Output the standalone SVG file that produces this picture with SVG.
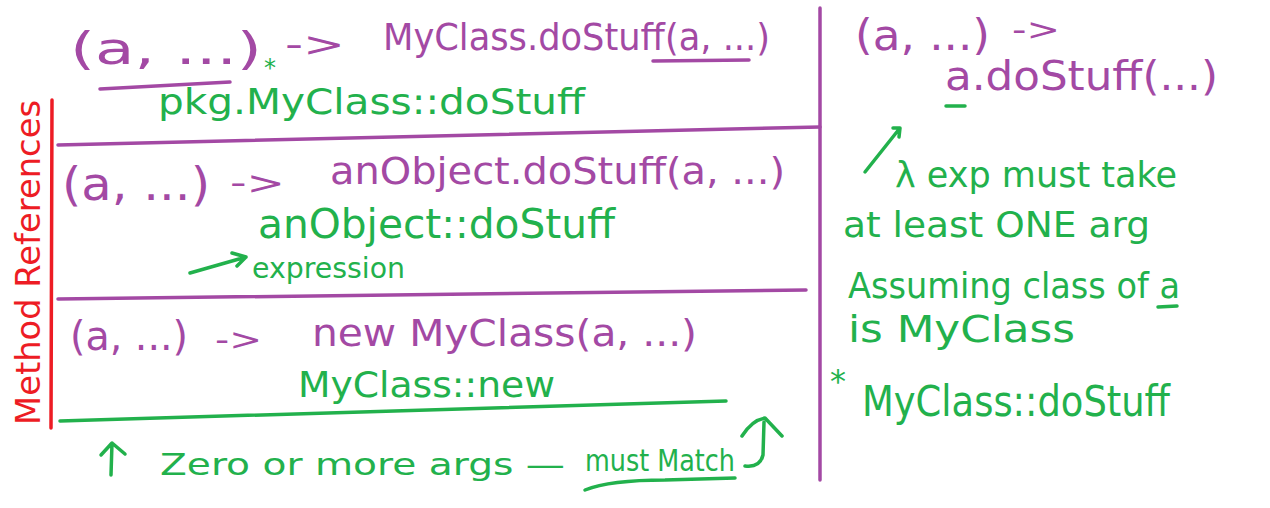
<svg xmlns="http://www.w3.org/2000/svg" width="1270" height="508" viewBox="0 0 1270 508">
<style>
text{font-family:"DejaVu Sans","Liberation Sans",sans-serif;}
.p{fill:#a349a4;}
.g{fill:#22b14c;}
.r{fill:#ed1c24;}
.lp{stroke:#a349a4;stroke-width:3.5;fill:none;stroke-linecap:round;stroke-linejoin:round;}
.lg{stroke:#22b14c;stroke-width:3.5;fill:none;stroke-linecap:round;stroke-linejoin:round;}
.lr{stroke:#ed1c24;stroke-width:3.5;fill:none;stroke-linecap:round;}
</style>
<rect width="1270" height="508" fill="#ffffff"/>
<g id="frame">
<path class="lp" d="M820 8 L820 480"/>
<path class="lp" d="M58 145 L820 127"/>
<path class="lp" d="M58 299 L806 290"/>
<path class="lg" d="M60 421 L726 401"/>
<path class="lr" d="M52 100 L51 428"/>
<path class="lp" d="M100 89 L230 82"/>
<path class="lp" d="M653 61 L749 60"/>
</g>
<g id="title">
<text class="r" transform="translate(40,425) rotate(-90)" font-size="34" textLength="325" lengthAdjust="spacingAndGlyphs">Method References</text>
</g>
<g id="row1">
<text class="p" x="70" y="64" font-size="44" textLength="192" lengthAdjust="spacingAndGlyphs">(a, ...)</text>
<text class="p" x="285" y="56" font-size="34" textLength="60" lengthAdjust="spacingAndGlyphs">-&gt;</text>
<text class="p" x="383" y="50" font-size="38" textLength="387" lengthAdjust="spacingAndGlyphs">MyClass.doStuff(a, ...)</text>
<text class="g" x="264" y="76" font-size="24">*</text>
<text class="g" x="158" y="114" font-size="36" textLength="427" lengthAdjust="spacingAndGlyphs">pkg.MyClass::doStuff</text>
</g>
<g id="row2">
<text class="p" x="62" y="200" font-size="46" textLength="148" lengthAdjust="spacingAndGlyphs">(a, ...)</text>
<text class="p" x="230" y="194" font-size="32" textLength="55" lengthAdjust="spacingAndGlyphs">-&gt;</text>
<text class="p" x="330" y="184" font-size="38" textLength="455" lengthAdjust="spacingAndGlyphs">anObject.doStuff(a, ...)</text>
<text class="g" x="258" y="238" font-size="40" textLength="357" lengthAdjust="spacingAndGlyphs">anObject::doStuff</text>
<path class="lg" d="M190 273 L246 257 M232 253 L246 257 L237 266"/>
<text class="g" x="252" y="278" font-size="28" textLength="153" lengthAdjust="spacingAndGlyphs">expression</text>
</g>
<g id="row3">
<text class="p" x="70" y="350" font-size="40" textLength="118" lengthAdjust="spacingAndGlyphs">(a, ...)</text>
<text class="p" x="215" y="350" font-size="30" textLength="47" lengthAdjust="spacingAndGlyphs">-&gt;</text>
<text class="p" x="312" y="346" font-size="38" textLength="385" lengthAdjust="spacingAndGlyphs">new MyClass(a, ...)</text>
<text class="g" x="298" y="397" font-size="36" textLength="257" lengthAdjust="spacingAndGlyphs">MyClass::new</text>
</g>
<g id="bottom">
<path class="lg" d="M111 475 L112 443 M101 455 L112 443 L125 454"/>
<text class="g" x="160" y="475" font-size="30" textLength="405" lengthAdjust="spacingAndGlyphs">Zero or more args —</text>
<text class="g" x="585" y="471" font-size="30" textLength="150" lengthAdjust="spacingAndGlyphs">must Match</text>
<path class="lg" d="M585 490 Q610 480 665 480 L735 478"/>
<path class="lg" d="M745 466 Q760 468 763 455 L764 422 M742 436 Q752 420 765 418 L782 436"/>
</g>
<g id="right">
<text class="p" x="855" y="50" font-size="42" textLength="135" lengthAdjust="spacingAndGlyphs">(a, ...)</text>
<text class="p" x="1012" y="40" font-size="30" textLength="48" lengthAdjust="spacingAndGlyphs">-&gt;</text>
<text class="p" x="945" y="90" font-size="40" textLength="273" lengthAdjust="spacingAndGlyphs">a.doStuff(...)</text>
<path class="lg" d="M946 106 L965 106"/>
<path class="lg" d="M865 172 L900 128 M893 128 L900 128 L899 137"/>
<text class="g" x="895" y="187" font-size="36" textLength="282" lengthAdjust="spacingAndGlyphs">λ exp must take</text>
<text class="g" x="843" y="237" font-size="36" textLength="307" lengthAdjust="spacingAndGlyphs">at least ONE arg</text>
<text class="g" x="848" y="298" font-size="36" textLength="332" lengthAdjust="spacingAndGlyphs">Assuming class of a</text>
<path class="lg" d="M1158 307 L1177 306"/>
<text class="g" x="848" y="342" font-size="38" textLength="227" lengthAdjust="spacingAndGlyphs">is MyClass</text>
<text class="g" x="830" y="392" font-size="32">*</text>
<text class="g" x="862" y="416" font-size="42" textLength="308" lengthAdjust="spacingAndGlyphs">MyClass::doStuff</text>
</g>
</svg>
